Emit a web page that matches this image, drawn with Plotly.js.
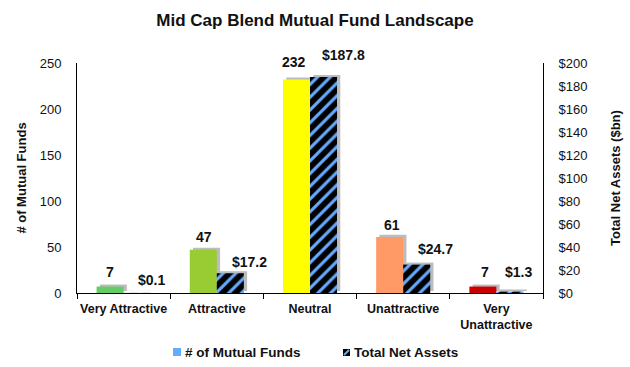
<!DOCTYPE html>
<html><head><meta charset="utf-8">
<script src="https://cdn.plot.ly/plotly-3.0.1.min.js"></script>
<style>body{margin:0;background:#fff}#c{width:630px;height:367px}</style>
</head><body><div id="c"></div>
<script>
const categories = ["Very Attractive", "Attractive", "Neutral", "Unattractive", "Very<br>Unattractive"];
const fundCounts = [7, 47, 232, 61, 7];
const netAssets = [0.1, 17.2, 187.8, 24.7, 1.3];
const fundLabels = ["7", "47", "232", "61", "7"];
const assetLabels = ["$0.1", "$17.2", "$187.8", "$24.7", "$1.3"];

const fundColors = ["#66cc66", "#99cc33", "#ffff00", "#ff9966", "#cc0000"];
const blue = "#66aaff";
const W = 0.29;
const shadow = "#bcbcbc";
const font = "Liberation Sans, Arial, sans-serif";

const traces = [
  // shadows on invisible, slightly shifted axes (drawn first => behind)
  {type:"bar", x:categories, y:fundCounts, yaxis:"y", offset:-W+0.035, width:W,
   marker:{color:shadow, line:{width:0}}, showlegend:false, hoverinfo:"skip"},
  {type:"bar", x:categories, y:netAssets, yaxis:"y2", offset:0.035, width:W,
   marker:{color:shadow, line:{width:0}}, showlegend:false, hoverinfo:"skip"},
  {type:"bar", x:categories, y:fundCounts, yaxis:"y3", offset:-W, width:W, name:"# of Mutual Funds",
   marker:{color:fundColors, line:{width:0}}, showlegend:false},
  {type:"bar", x:categories, y:netAssets, yaxis:"y4", offset:0, width:W, name:"Total Net Assets",
   marker:{color:"black", pattern:{shape:"/", fgcolor:blue, bgcolor:"black", size:9, solidity:0.35}, line:{width:0}},
   showlegend:false}
];

const fundShiftX = [-14, -13, -16, -11, -11];
const fundShiftY = [15, 13, 18, 12, 15];
const assetShiftX = [28, 33, 33, 32, 22];
const assetShiftY = [13, 11, 22, 16, 20];
const annotations = [];
categories.forEach((c, i) => {
  annotations.push({x:c, y:fundCounts[i], xref:"x", yref:"y3", text:"<b>"+fundLabels[i]+"</b>",
    showarrow:false, xshift:fundShiftX[i], yshift:fundShiftY[i], font:{family:font, size:14, color:"#111"}});
  annotations.push({x:c, y:netAssets[i], xref:"x", yref:"y4", text:"<b>"+assetLabels[i]+"</b>",
    showarrow:false, xshift:assetShiftX[i], yshift:assetShiftY[i], font:{family:font, size:14, color:"#111"}});
});
// legend (drawn manually so symbol sits right next to text)
const legendNames = ["# of Mutual Funds", "Total Net Assets"];
const legendX = [183, 352];
const legendY = 352;
const px = v => (v - 77) / 466;
const py = v => (293 - v) / 230;
legendNames.forEach((n, i) => {
  annotations.push({xref:"paper", yref:"paper", x:px(legendX[i]), y:py(legendY), xanchor:"left", yanchor:"middle",
    text:"<b>"+n+"</b>", showarrow:false, font:{family:font, size:13.5, color:"#111"}});
});
const shapes = [
  {type:"rect", xref:"paper", yref:"paper", x0:px(173), x1:px(181), y0:py(356), y1:py(348), fillcolor:blue, line:{width:0}},
  {type:"rect", xref:"paper", yref:"paper", x0:px(343), x1:px(350), y0:py(356), y1:py(349), fillcolor:"#000", line:{width:0}},
  {type:"line", xref:"paper", yref:"paper", x0:px(344), x1:px(349), y0:py(355), y1:py(350), line:{color:blue, width:2}}
];

const axisFont = {family:font, size:13, color:"#111"};
const layout = {
  width:630, height:367,
  margin:{l:77, r:87, t:63, b:74},
  paper_bgcolor:"#fff", plot_bgcolor:"#fff",
  font:{family:font, size:13, color:"#111"},
  title:{text:"<b>Mid Cap Blend Mutual Fund Landscape</b>", x:0.5, xanchor:"center", y:0.945, yanchor:"middle",
    font:{family:font, size:17, color:"#111"}},
  barmode:"overlay",
  showlegend:false,
  xaxis:{type:"category", showline:true, linecolor:"#000", linewidth:1, ticks:"outside", tickson:"boundaries",
    ticklen:5, tickcolor:"#000", tickangle:0, ticklabelstandoff:4, tickfont:{family:font, size:12.5, color:"#111"}, showgrid:false,
    range:[-0.5, 4.5], tickvals:categories, ticktext:categories.map(s => "<b>"+s+"</b>")},
  yaxis:{range:[-2.2, 247.8], visible:false, showgrid:false, zeroline:false},
  yaxis2:{overlaying:"y", range:[-1.76, 198.24], visible:false, showgrid:false, zeroline:false},
  yaxis3:{overlaying:"y", side:"left", anchor:"x", range:[0, 250], dtick:50, showline:true, linecolor:"#000", linewidth:1,
    showgrid:false, zeroline:false, ticks:"", ticklabelstandoff:12, tickfont:axisFont,
    title:{text:"<b># of Mutual Funds</b>", font:axisFont, standoff:10}},
  yaxis4:{overlaying:"y", side:"right", anchor:"x", range:[0, 200], dtick:20, tickprefix:"$", showline:true,
    linecolor:"#000", linewidth:1, showgrid:false, zeroline:false, ticks:"", ticklabelstandoff:12, tickfont:axisFont,
    title:{text:"<b>Total Net Assets ($bn)</b>", font:axisFont, standoff:24}},
  annotations:annotations,
  shapes:shapes
};
Plotly.newPlot("c", traces, layout, {staticPlot:true});
</script></body></html>
